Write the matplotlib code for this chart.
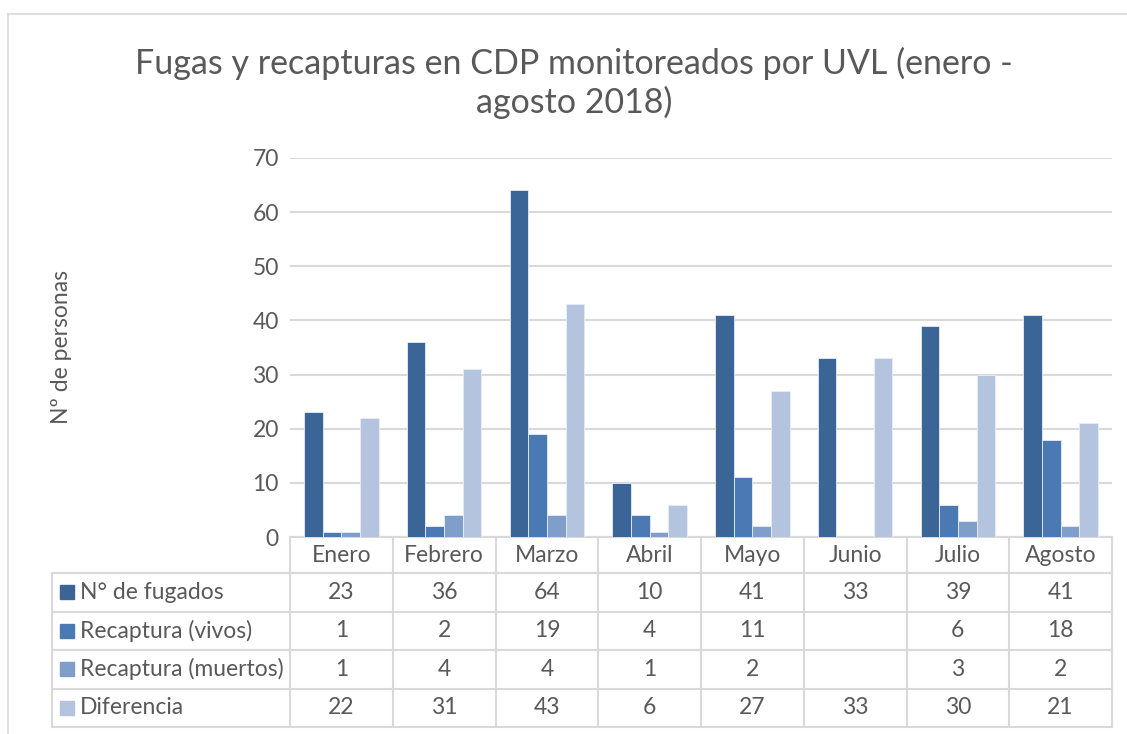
import numpy as np
import matplotlib
matplotlib.use("Agg")
import matplotlib.pyplot as plt
from matplotlib.lines import Line2D
from matplotlib.patches import Rectangle

plt.rcParams['font.family'] = ['Lato', 'DejaVu Sans']

meses = ['Enero', 'Febrero', 'Marzo', 'Abril', 'Mayo', 'Junio', 'Julio', 'Agosto']
series = ['N° de fugados', 'Recaptura (vivos)', 'Recaptura (muertos)', 'Diferencia']
fugados = [23, 36, 64, 10, 41, 33, 39, 41]
vivos = [1, 2, 19, 4, 11, None, 6, 18]
muertos = [1, 4, 4, 1, 2, None, 3, 2]
diferencia = [22, 31, 43, 6, 27, 33, 30, 21]
colores = ['#3C6597', '#4A79B3', '#7F9ECA', '#B4C4DF']

W, H = 1127, 734
TXT = '#595959'
GRID = '#D9D9D9'

fig = plt.figure(figsize=(W / 100, H / 100), dpi=100)


def fx(x):
    return x / W


def fy(y):
    return 1 - y / H


def hline(x0, x1, y, c=GRID, lw=1.5):
    fig.add_artist(Line2D([fx(x0), fx(x1)], [fy(y), fy(y)], color=c, lw=lw))


def vline(x, y0, y1, c=GRID, lw=1.5):
    fig.add_artist(Line2D([fx(x), fx(x)], [fy(y0), fy(y1)], color=c, lw=lw))


# chart area border
hline(8, 1127, 14, c='#D9D9D9', lw=1.2)
vline(8, 14, 734, c='#D9D9D9', lw=1.2)

ax_l, ax_r, ax_t, ax_b = 290, 1112, 158, 537
ax = fig.add_axes([fx(ax_l), fy(ax_b), fx(ax_r - ax_l), (ax_b - ax_t) / H])

datos = [fugados, vivos, muertos, diferencia]
n = len(series)
bw = 1 / (n + 1.5)
x = np.arange(len(meses))
for i, (vals, col) in enumerate(zip(datos, colores)):
    v = [np.nan if d is None else d for d in vals]
    ax.bar(x + (i - (n - 1) / 2) * bw, v, width=bw, color=col,
           edgecolor='#E8ECF4', linewidth=0.6, zorder=3)

fs = 16.5
ax.set_xlim(-0.5, len(meses) - 0.5)
ax.set_ylim(0, 70)
ax.set_yticks(range(0, 71, 10))
ax.grid(axis='y', color=GRID, lw=1.5, zorder=0)
ax.tick_params(axis='y', length=0, labelsize=fs, labelcolor=TXT, pad=8)
ax.set_xticks([])
for s in ['top', 'right', 'left']:
    ax.spines[s].set_visible(False)
ax.spines['bottom'].set_color(GRID)
ax.spines['bottom'].set_linewidth(1.5)

fig.text(fx(62), fy(347), 'Nº de personas', rotation=90, ha='center',
         va='center', fontsize=fs, color=TXT)

fig.text(fx(574), fy(83), 'Fugas y recapturas en CDP monitoreados por UVL (enero -\nagosto 2018)',
         ha='center', va='center', fontsize=24.5, color=TXT, linespacing=1.22)

# data table
col_w = (ax_r - ax_l) / len(meses)
filas = [537, 573, 611.5, 650, 688.5, 726.5]
tab_l = 52
for j in range(len(meses) + 1):
    vline(ax_l + j * col_w, filas[0], filas[-1])
vline(tab_l, filas[1], filas[-1])
for y in filas[1:]:
    hline(tab_l, ax_r, y)

for j, m in enumerate(meses):
    fig.text(fx(ax_l + (j + 0.5) * col_w), fy((filas[0] + filas[1]) / 2), m,
             ha='center', va='center', fontsize=fs, color=TXT)
for i, (nombre, vals, col) in enumerate(zip(series, datos, colores)):
    yc = (filas[i + 1] + filas[i + 2]) / 2
    fig.add_artist(Rectangle((fx(60), fy(yc + 7)), fx(14), 14 / H,
                             color=col, transform=fig.transFigure))
    fig.text(fx(80), fy(yc), nombre, ha='left', va='center', fontsize=fs, color=TXT)
    for j, v in enumerate(vals):
        if v is not None:
            fig.text(fx(ax_l + (j + 0.5) * col_w), fy(yc), str(v),
                     ha='center', va='center', fontsize=fs, color=TXT)

fig.savefig('out.png', dpi=100)
